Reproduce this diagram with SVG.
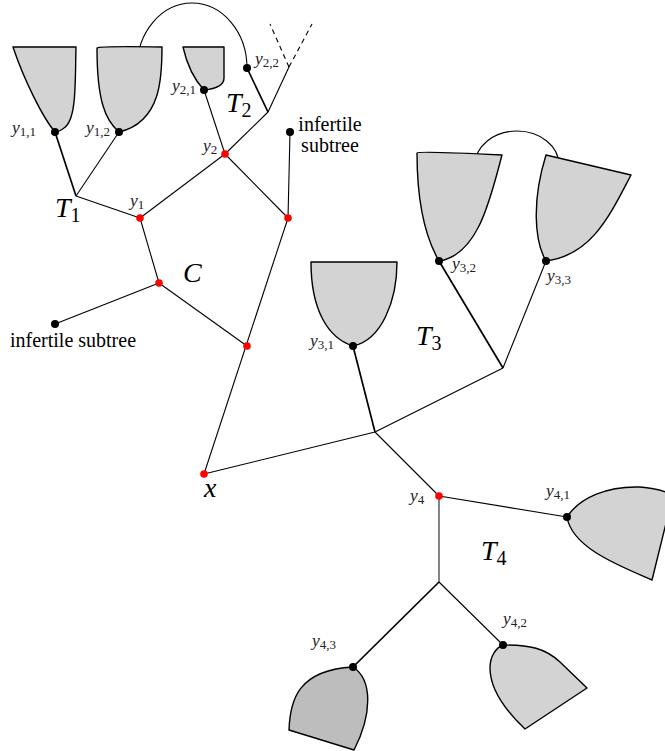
<svg xmlns="http://www.w3.org/2000/svg" width="665" height="751" viewBox="0 0 665 751">
<style>
.e{stroke:#000;stroke-width:1.1;fill:none}
.t{stroke:#000;stroke-width:1.7;fill:none}
.bl{fill:#d3d3d3;stroke:#000;stroke-width:1.4;stroke-linejoin:round}
.bd{fill:#bdbdbd;stroke:#000;stroke-width:1.4;stroke-linejoin:round}
.r{fill:#ff0000}
.k{fill:#000}
text{font-family:'Liberation Serif','Times New Roman','DejaVu Serif',serif}
.lb{font-style:italic;font-size:17.5px;fill:#222}
.lb tspan{font-size:13px;font-style:normal}
.big{font-style:italic;font-size:28px;fill:#000}
.big tspan{font-size:20px;font-style:normal}
.rm{font-size:20px;fill:#000}
</style>
<g id="connectors">
<path class="e" d="M137,68 A55,65 0 0 1 247,68"/>
<path class="e" d="M475,165 A42,34 0 0 1 559,165"/>
<line class="t" x1="55" y1="132" x2="76" y2="196"/>
<line class="e" x1="119" y1="132" x2="76" y2="196"/>
<line class="e" x1="76" y1="196" x2="140" y2="218"/>
<line class="e" x1="140" y1="218" x2="225" y2="154"/>
<line class="e" x1="204" y1="90" x2="225" y2="154"/>
<line class="e" x1="225" y1="154" x2="268" y2="112"/>
<line class="t" x1="247" y1="68" x2="268" y2="112"/>
<line class="e" x1="268" y1="112" x2="289" y2="67"/>
<line class="e" x1="289" y1="67" x2="270" y2="24" stroke-dasharray="5,4"/>
<line class="e" x1="289" y1="67" x2="312" y2="24" stroke-dasharray="5,4"/>
<line class="e" x1="225" y1="154" x2="288" y2="218"/>
<line class="e" x1="290" y1="132" x2="288" y2="218"/>
<line class="e" x1="140" y1="218" x2="159" y2="283"/>
<line class="e" x1="159" y1="283" x2="55" y2="324"/>
<line class="e" x1="159" y1="283" x2="247" y2="346"/>
<line class="e" x1="288" y1="218" x2="204" y2="474"/>
<line class="e" x1="204" y1="474" x2="375" y2="432"/>
<line class="t" x1="375" y1="432" x2="353" y2="346"/>
<line class="e" x1="375" y1="432" x2="503" y2="368"/>
<line class="t" x1="503" y1="368" x2="439" y2="261"/>
<line class="e" x1="503" y1="368" x2="546" y2="261"/>
<line class="e" x1="375" y1="432" x2="439" y2="496"/>
<line class="e" x1="439" y1="496" x2="567" y2="517"/>
<line x1="439" y1="496" x2="439" y2="582" stroke="#666" stroke-width="1.6"/>
<line class="e" x1="439" y1="582" x2="503" y2="645"/>
<line class="t" x1="439" y1="582" x2="353" y2="667"/>
</g>
<g id="y11">
<path class="bl" d="M13,47 L76,47 C75,80 77,120 64,128 Q59,132 55,132 C43,118 24,80 13,47 Z"/>
<circle class="k" cx="55" cy="132" r="4"/>
<text class="lb" x="12" y="133">y<tspan dy="3">1,1</tspan></text>
</g>
<g id="y12">
<path class="bl" d="M97,48 Q99,46 162,47 C162,75 162,122 119,132 C105,120 97,100 97,48 Z"/>
<circle class="k" cx="119" cy="132" r="4"/>
<text class="lb" x="86" y="133">y<tspan dy="3">1,2</tspan></text>
</g>
<g id="T1">
<text class="big" x="55" y="217">T<tspan dy="5">1</tspan></text>
</g>
<g id="y1">
<circle class="r" cx="140" cy="218" r="3.8"/>
<text class="lb" x="130" y="206">y<tspan dy="3">1</tspan></text>
</g>
<g id="y21">
<path class="bl" d="M183,47 L224,47 L224,78 Q224,88 204,90 Q189,74 183,47 Z"/>
<circle class="k" cx="204" cy="90" r="4"/>
<text class="lb" x="172" y="91">y<tspan dy="3">2,1</tspan></text>
</g>
<g id="y22">
<circle class="k" cx="247" cy="68" r="4"/>
<text class="lb" x="255" y="64">y<tspan dy="3">2,2</tspan></text>
</g>
<g id="T2">
<text class="big" x="226" y="112">T<tspan dy="5">2</tspan></text>
</g>
<g id="y2">
<circle class="r" cx="225" cy="154" r="3.8"/>
<text class="lb" x="203" y="151">y<tspan dy="3">2</tspan></text>
</g>
<g id="infertile1">
<circle class="k" cx="290" cy="132" r="4"/>
<text class="rm" x="330" y="131" text-anchor="middle">infertile</text>
<text class="rm" x="330" y="152" text-anchor="middle">subtree</text>
</g>
<g id="v1">
<circle class="r" cx="288" cy="218" r="3.8"/>
</g>
<g id="C">
<circle class="r" cx="159" cy="283" r="3.8"/>
<text class="big" x="183" y="282">C</text>
</g>
<g id="infertile2">
<circle class="k" cx="55" cy="324" r="4"/>
<text class="rm" x="73" y="347" text-anchor="middle">infertile subtree</text>
</g>
<g id="v2">
<circle class="r" cx="247" cy="346" r="3.8"/>
</g>
<g id="x">
<circle class="r" cx="204" cy="474" r="3.8"/>
<text class="big" x="204" y="497">x</text>
</g>
<g id="y31">
<path class="bl" d="M311,262 L397,262 C397,300 382,340 353,346 C328,338 311,310 311,262 Z"/>
<circle class="k" cx="353" cy="346" r="4"/>
<text class="lb" x="310" y="346">y<tspan dy="3">3,1</tspan></text>
</g>
<g id="T3">
<text class="big" x="416" y="345">T<tspan dy="5">3</tspan></text>
</g>
<g id="y32">
<path class="bl" d="M417,153 Q418,151 502,155 C490,200 478,255 439,261 C424,235 417,200 417,153 Z"/>
<circle class="k" cx="439" cy="261" r="4"/>
<text class="lb" x="452" y="269">y<tspan dy="3">3,2</tspan></text>
</g>
<g id="y33">
<path class="bl" d="M546,155 L631,175 C610,215 592,255 546,261 C534,240 532,200 546,155 Z"/>
<circle class="k" cx="546" cy="261" r="4"/>
<text class="lb" x="547" y="281">y<tspan dy="3">3,3</tspan></text>
</g>
<g id="y4">
<circle class="r" cx="439" cy="496" r="3.8"/>
<text class="lb" x="410" y="501">y<tspan dy="3">4</tspan></text>
</g>
<g id="T4">
<text class="big" x="481" y="560">T<tspan dy="5">4</tspan></text>
</g>
<g id="y41">
<path class="bl" d="M567,517 C580,497 608,486 640,487 C655,488 665,491 673,495 L652,580 C620,566 572,548 567,517 Z"/>
<circle class="k" cx="567" cy="517" r="4"/>
<text class="lb" x="546" y="496">y<tspan dy="3">4,1</tspan></text>
</g>
<g id="y42">
<path class="bl" d="M503,645 C530,645 545,648 560,662 L587,688 L525,729 C505,710 490,690 490,668 C490,656 496,648 503,645 Z"/>
<circle class="k" cx="503" cy="645" r="4"/>
<text class="lb" x="503" y="624">y<tspan dy="3">4,2</tspan></text>
</g>
<g id="y43">
<path class="bd" d="M353,667 C373,680 372,715 354,750 L289,730 C290,700 298,670 353,667 Z"/>
<circle class="k" cx="353" cy="667" r="4"/>
<text class="lb" x="312" y="646">y<tspan dy="3">4,3</tspan></text>
</g>
</svg>
